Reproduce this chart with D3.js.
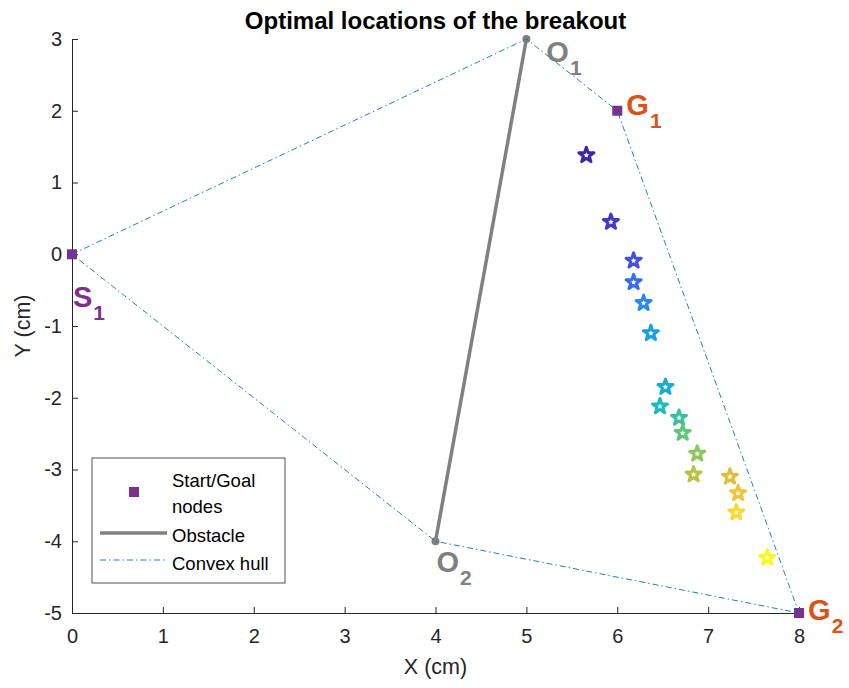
<!DOCTYPE html>
<html>
<head>
<meta charset="utf-8">
<script src="https://cdn.jsdelivr.net/npm/d3@7"></script>
<style>
  body { margin: 0; background: #fff; }
  text { font-family: "Liberation Sans", Arial, Helvetica, sans-serif; }
</style>
</head>
<body>
<div id="container"></div>
<script>
const width = 849;
const height = 688;

// start / goal nodes
const nodeNames = ["S1", "G1", "G2"];
const nodeX = [0, 6, 8];
const nodeY = [0, 2, -5];

// obstacle endpoints
const obstacleNames = ["O1", "O2"];
const obstacleX = [5, 4];
const obstacleY = [3, -4];

// convex hull vertices (closed)
const hullX = [0, 5, 6, 8, 4, 0];
const hullY = [0, 3, 2, -5, -4, 0];

// optimal breakout locations
const breakX = [5.66, 5.93, 6.18, 6.18, 6.29, 6.37, 6.53, 6.47, 6.68, 6.72, 6.88, 6.84, 7.24, 7.33, 7.31, 7.65];
const breakY = [1.38, 0.45, -0.09, -0.39, -0.68, -1.10, -1.85, -2.12, -2.28, -2.49, -2.78, -3.07, -3.10, -3.33, -3.60, -4.23];

// point labels (anchor = left/baseline of main letter, data units)
const labelMain = ["O", "G", "S", "O", "G"];
const labelSub = ["1", "1", "1", "2", "2"];
const labelX = [5.22, 6.10, 0.01, 4.01, 8.10];
const labelY = [2.68, 1.94, -0.74, -4.43, -5.10];
const labelKind = ["obstacle", "goal", "start", "obstacle", "goal"];

const xTicks = d3.range(0, 9);
const yTicks = d3.range(-5, 4);

const margin = {top: 39, right: 50, bottom: 75, left: 72};
const x = d3.scaleLinear().domain([0, 8]).range([margin.left, width - margin.right]);
const y = d3.scaleLinear().domain([-5, 3]).range([height - margin.bottom, margin.top]);

const purple = "#7e2f8e", orange = "#d95319", gray = "#808080", hullBlue = "#0072bd", axisCol = "#262626";
const labelColor = {obstacle: gray, goal: orange, start: purple};

// parula-like colormap
const parula = d3.interpolateRgbBasis(["#3e26a8", "#4746eb", "#2e87f7", "#12a9e0", "#1ebfb0", "#6ccc6a", "#c9c038", "#fdbc3c", "#f6f91b"]);

const svg = d3.select("div#container")
    .append("svg")
    .attr("width", width)
    .attr("height", height);

// axes (left + bottom only, ticks inward)
const xAxis = svg.append("g")
    .attr("transform", `translate(0,${y(-5)})`)
    .call(d3.axisBottom(x).tickValues(xTicks).tickSize(-6).tickPadding(14).tickSizeOuter(0));
const yAxis = svg.append("g")
    .attr("transform", `translate(${x(0)},0)`)
    .call(d3.axisLeft(y).tickValues(yTicks).tickSize(-6).tickPadding(10).tickSizeOuter(0).tickFormat(d => d < 0 ? "-" + Math.abs(d) : d));
[xAxis, yAxis].forEach(a => {
  a.select(".domain").attr("stroke", axisCol).attr("stroke-width", 1);
  a.selectAll(".tick line").attr("stroke", axisCol);
  a.selectAll(".tick text").attr("fill", axisCol).style("font-size", "20px");
});
xAxis.selectAll(".tick text").attr("dy", "0.8em");

// axis labels + title
svg.append("text")
    .attr("x", (x(0) + x(8)) / 2).attr("y", 674)
    .attr("text-anchor", "middle").attr("fill", axisCol)
    .style("font-size", "21.5px").text("X (cm)");
svg.append("text")
    .attr("transform", `translate(30,${(y(3) + y(-5)) / 2}) rotate(-90)`)
    .attr("text-anchor", "middle").attr("fill", axisCol)
    .style("font-size", "21.5px").text("Y (cm)");
svg.append("text")
    .attr("x", (x(0) + x(8)) / 2).attr("y", 29)
    .attr("text-anchor", "middle").attr("fill", "#000")
    .style("font-size", "24px").style("font-weight", "bold")
    .text("Optimal locations of the breakout");

// start / goal nodes
svg.append("g").selectAll("rect")
    .data(nodeX.map((d, i) => ({x: d, y: nodeY[i]})))
    .join("rect")
    .attr("x", d => x(d.x) - 5).attr("y", d => y(d.y) - 5)
    .attr("width", 10).attr("height", 10)
    .attr("fill", purple);

// obstacle
svg.append("line")
    .attr("x1", x(obstacleX[0])).attr("y1", y(obstacleY[0]))
    .attr("x2", x(obstacleX[1])).attr("y2", y(obstacleY[1]))
    .attr("stroke", gray).attr("stroke-width", 3.5);
svg.append("g").selectAll("circle")
    .data(obstacleX.map((d, i) => ({x: d, y: obstacleY[i]})))
    .join("circle")
    .attr("cx", d => x(d.x)).attr("cy", d => y(d.y))
    .attr("r", 4).attr("fill", gray);

// convex hull
const hullLine = d3.line().x(d => x(d[0])).y(d => y(d[1]));
svg.append("path")
    .datum(hullX.map((d, i) => [d, hullY[i]]))
    .attr("d", hullLine)
    .attr("fill", "none")
    .attr("stroke", hullBlue).attr("stroke-width", 0.9)
    .attr("stroke-dasharray", "6,3,1.5,3");

// breakout locations
const star = d3.symbol().type(d3.symbolStar).size(70);
svg.append("g").selectAll("path")
    .data(breakX.map((d, i) => ({x: d, y: breakY[i], i})))
    .join("path")
    .attr("d", star)
    .attr("transform", d => `translate(${x(d.x)},${y(d.y)})`)
    .attr("fill", "none")
    .attr("stroke", d => parula(d.i / (breakX.length - 1)))
    .attr("stroke-width", 3)
    .attr("stroke-linejoin", "round");

// point labels
const lab = svg.append("g").selectAll("text")
    .data(labelMain.map((d, i) => ({m: d, s: labelSub[i], x: labelX[i], y: labelY[i], k: labelKind[i]})))
    .join("text")
    .attr("x", d => x(d.x)).attr("y", d => y(d.y))
    .attr("fill", d => labelColor[d.k])
    .style("font-weight", "bold");
lab.append("tspan").style("font-size", "29px").text(d => d.m);
lab.append("tspan").attr("dy", 13).attr("dx", 1).style("font-size", "21px").text(d => d.s);

// legend
const lg = svg.append("g").attr("transform", "translate(92,458)");
lg.append("rect").attr("width", 193).attr("height", 125)
    .attr("fill", "#fff").attr("stroke", axisCol).attr("stroke-width", 0.8);
lg.append("rect").attr("x", 37).attr("y", 29).attr("width", 10).attr("height", 10).attr("fill", purple);
lg.append("line").attr("x1", 8).attr("x2", 75).attr("y1", 75).attr("y2", 75)
    .attr("stroke", gray).attr("stroke-width", 3.5);
lg.append("line").attr("x1", 8).attr("x2", 75).attr("y1", 102).attr("y2", 102)
    .attr("stroke", hullBlue).attr("stroke-width", 0.9).attr("stroke-dasharray", "6,3,1.5,3");
const legendLines = [["Start/Goal", 29], ["nodes", 55], ["Obstacle", 84], ["Convex hull", 112]];
lg.selectAll("text.l").data(legendLines).join("text")
    .attr("x", 80).attr("y", d => d[1])
    .attr("fill", "#000").style("font-size", "18.5px")
    .text(d => d[0]);
</script>
</body>
</html>
